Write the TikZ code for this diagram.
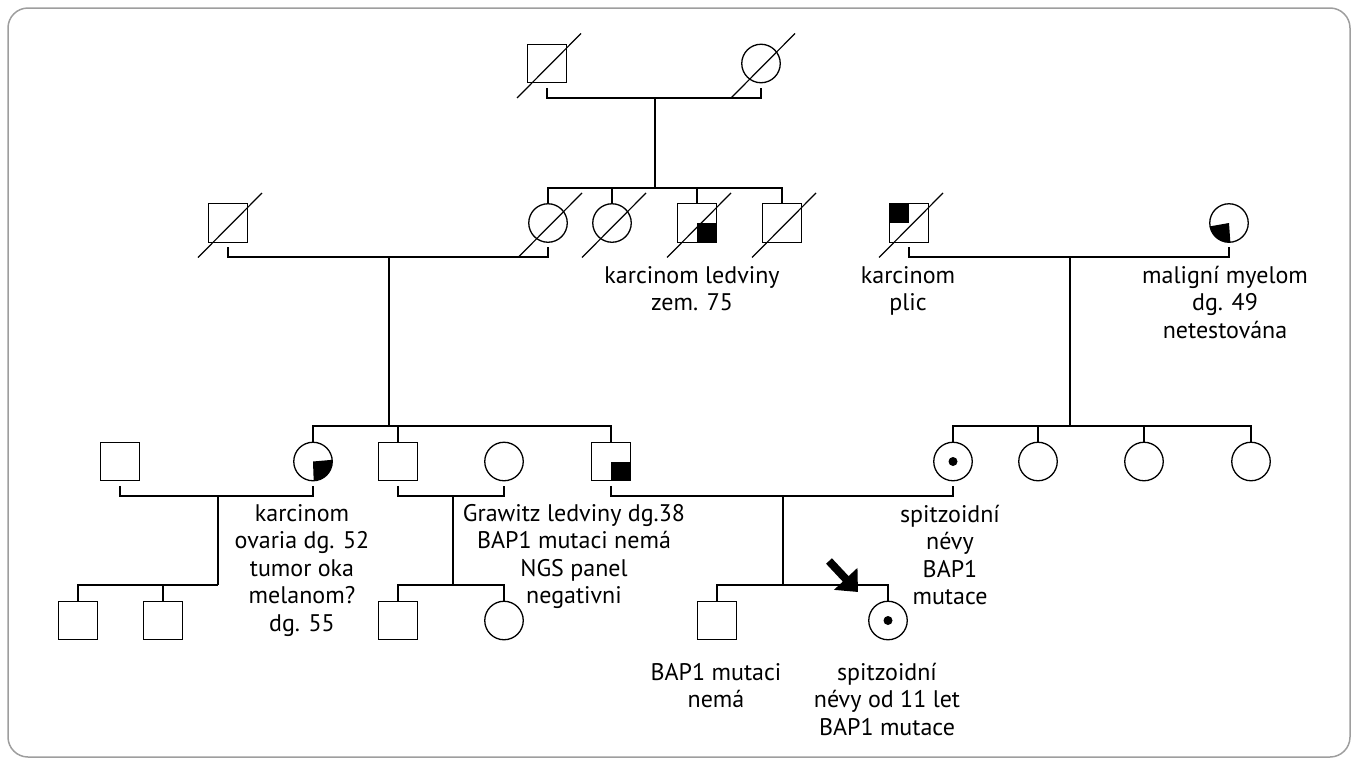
\documentclass[tikz,border=0pt]{standalone}
\usepackage{fontspec}
\setmainfont{PT Sans}
\usetikzlibrary{arrows.meta}
\begin{document}
\begin{tikzpicture}[x=1pt,y=-1pt,
  sq/.style={draw, line width=1.3pt, rectangle, minimum size=38.5pt, inner sep=0pt, outer sep=0pt},
  ci/.style={draw, line width=1.3pt, circle, minimum size=38.5pt, inner sep=0pt, outer sep=0pt},
  ln/.style={line width=1.6pt},
  slash/.style={line width=1.2pt},
  lbl/.style={inner sep=0pt, anchor=base, font=\fontsize{24}{27.5}\selectfont}]
\useasboundingbox (0,0) rectangle (1352,758);
\draw[black!38, line width=1.5pt, rounded corners=20pt] (8,8) rectangle (1350,757);

% generation I
\node[sq] (f1) at (547,63.5) {};
\node[ci] (m1) at (761,63.5) {};
% generation II
\node[sq] (a) at (228,223) {};
\node[ci] (b) at (548,223) {};
\node[ci] (c) at (612,223) {};
\node[sq] (d) at (697,223) {};
\node[sq] (e) at (782,223) {};
\node[sq] (g) at (909,223) {};
\node[ci] (h) at (1229,223) {};
% generation III
\node[sq] (i) at (120,461.5) {};
\node[ci] (j) at (313,461.5) {};
\node[sq] (k) at (398,461.5) {};
\node[ci] (l) at (504,461.5) {};
\node[sq] (n) at (611,461.5) {};
\node[ci] (o) at (953,461.5) {};
\node[ci] (p) at (1038,461.5) {};
\node[ci] (q) at (1144,461.5) {};
\node[ci] (r) at (1251,461.5) {};
% generation IV
\node[sq] (s1) at (78,620.5) {};
\node[sq] (s2) at (163,620.5) {};
\node[sq] (t1) at (398,620.5) {};
\node[ci] (t2) at (504,620.5) {};
\node[sq] (u1) at (717,620.5) {};
\node[ci] (u2) at (888,620.5) {};

% affected markings
\fill (d.center) rectangle (d.south east);
\fill (g.center) rectangle (g.north west);
\fill (n.center) rectangle (n.south east);
\fill (h.center) -- ++(-190:19.25) arc[start angle=-190, end angle=-274, radius=19.25] -- cycle;
\fill (j.center) -- ++(88:19.25) arc[start angle=88, end angle=-5, radius=19.25] -- cycle;
\fill (o.center) circle[radius=4.5];
\fill (u2.center) circle[radius=4.5];

% deceased slashes
\foreach \nn in {f1,m1,a,b,c,d,e,g}
  \draw[slash] ([shift={(-30,34.5)}]\nn.center) -- ([shift={(34,-30)}]\nn.center);

% junction coordinates
\coordinate (mar1) at (655,97.75);
\coordinate (sib1) at (655,188);
\coordinate (mar2) at (389,257.25);
\coordinate (sib2) at (389,426);
\coordinate (mar3) at (1070,257.25);
\coordinate (sib3) at (1070,426);
\coordinate (mar4) at (218,496.25);
\coordinate (sib4) at (218,585);
\coordinate (mar5) at (453,496.25);
\coordinate (sib5) at (453,585);
\coordinate (mar6) at (783,496.25);
\coordinate (sib6) at (783,585);

% marriages
\foreach \u/\v in {f1/m1,a/b,g/h,i/j,k/l,n/o}
  \draw[ln] ([shift={(0,5)}]\u.south) -- ++(0,10) -| ([shift={(0,5)}]\v.south);
% descent lines
\foreach \u/\v in {mar1/sib1,mar2/sib2,mar3/sib3,mar4/sib4,mar5/sib5,mar6/sib6}
  \draw[ln] (\u) -- (\v);
% sibships
\draw[ln] (b.north) |- (sib1) -| (e.north);
\draw[ln] (c.north) |- (sib1);
\draw[ln] (d.north) |- (sib1);
\draw[ln] (j.north) |- (sib2) -| (n.north);
\draw[ln] (k.north) |- (sib2);
\draw[ln] (o.north) |- (sib3) -| (r.north);
\draw[ln] (p.north) |- (sib3);
\draw[ln] (q.north) |- (sib3);
\draw[ln] (s1.north) |- (sib4);
\draw[ln] (s2.north) |- (sib4);
\draw[ln] (t1.north) |- (sib5) -| (t2.north);
\draw[ln] (u1.north) |- (sib6) -| (u2.north);

% proband arrow
\coordinate (arrT) at (829,561);
\coordinate (arrH) at (858,592);
\draw[line width=8pt, -{Triangle[length=18pt,width=31pt]}] (arrT) -- (arrH);

% labels
\node[lbl] (L1) at (692,283) {\begin{tabular}[t]{@{}c@{}}karcinom ledviny\\zem. 75\end{tabular}};
\node[lbl] (L2) at (908,283) {\begin{tabular}[t]{@{}c@{}}karcinom\\plic\end{tabular}};
\node[lbl] (L3) at (1225,283) {\begin{tabular}[t]{@{}c@{}}maligní myelom\\dg. 49\\netestována\end{tabular}};
\node[lbl] (L4) at (302,521) {\begin{tabular}[t]{@{}c@{}}karcinom\\ovaria dg. 52\\tumor oka\\melanom?\\dg. 55\end{tabular}};
\node[lbl] (L5) at (574,521) {\begin{tabular}[t]{@{}c@{}}Grawitz ledviny dg.38\\BAP1 mutaci nemá\\NGS panel\\negativni\end{tabular}};
\node[lbl] (L6) at (950,522) {\begin{tabular}[t]{@{}c@{}}spitzoidní\\névy\\BAP1\\mutace\end{tabular}};
\node[lbl] (L7) at (716,680) {\begin{tabular}[t]{@{}c@{}}BAP1 mutaci\\nemá\end{tabular}};
\node[lbl] (L8) at (887,680) {\begin{tabular}[t]{@{}c@{}}spitzoidní\\névy od 11 let\\BAP1 mutace\end{tabular}};
\end{tikzpicture}
\end{document}
